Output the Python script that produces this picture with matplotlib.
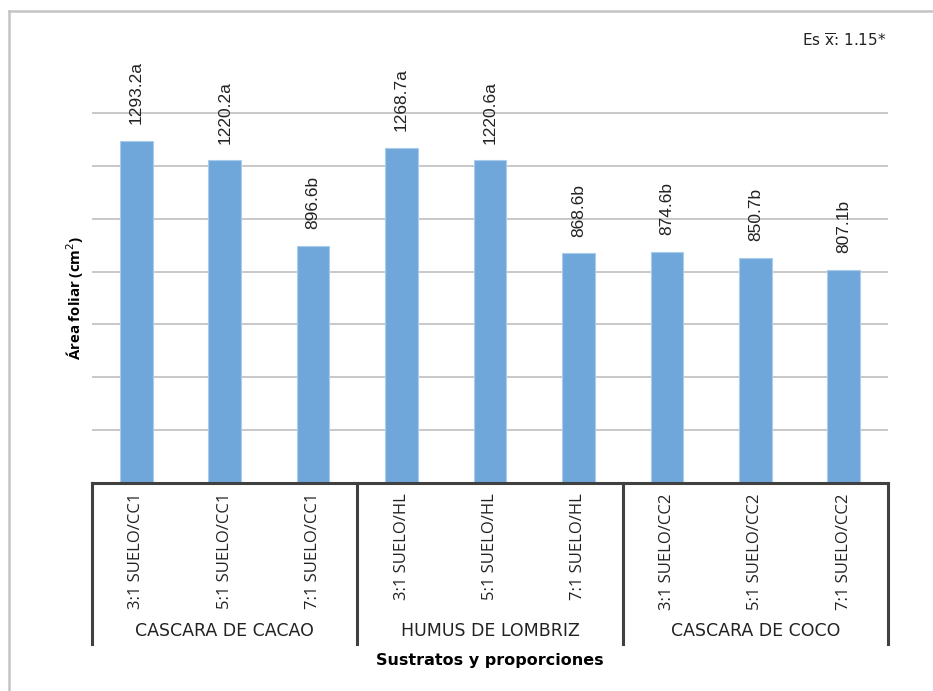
import matplotlib
matplotlib.use("Agg")
import matplotlib.pyplot as plt
from matplotlib.lines import Line2D

categories = ["3:1 SUELO/CC1", "5:1 SUELO/CC1", "7:1 SUELO/CC1",
              "3:1 SUELO/HL", "5:1 SUELO/HL", "7:1 SUELO/HL",
              "3:1 SUELO/CC2", "5:1 SUELO/CC2", "7:1 SUELO/CC2"]
values = [1293.2, 1220.2, 896.6, 1268.7, 1220.6, 868.6, 874.6, 850.7, 807.1]
letters = ["a", "a", "b", "a", "a", "b", "b", "b", "b"]
groups = ["CASCARA DE CACAO", "HUMUS DE LOMBRIZ", "CASCARA DE COCO"]
group_size = 3
grid_ticks = [200, 400, 600, 800, 1000, 1200, 1400]

narrow = ["Open Sans", "DejaVu Sans"]
W, H = 933, 691
fig = plt.figure(figsize=(W / 100, H / 100), dpi=100)

# outer border (only left and top edges visible)
bx, by = 8.5 / W, 1 - 11 / H
fig.add_artist(Line2D([bx, bx], [0, by], transform=fig.transFigure, color="#C4C4C4", lw=1.8))
fig.add_artist(Line2D([bx, 1], [by, by], transform=fig.transFigure, color="#C4C4C4", lw=1.8))

left, right, bottom, top = 92 / W, 888 / W, 1 - 483 / H, 1 - 60 / H
ax = fig.add_axes([left, bottom, right - left, top - bottom])
x = list(range(len(categories)))
ax.set_xlim(-0.5, len(categories) - 0.5)
ax.set_ylim(0, 1600)
for g in grid_ticks:
    ax.axhline(g, color="#C4C4C4", lw=1.3, zorder=0)
bars = ax.bar(x, values, width=0.37, color="#70A7DA", edgecolor="#A9CCEB", lw=0.8, zorder=2)
for xi, v, l in zip(x, values, letters):
    ax.annotate(f"{v}{l}", (xi, v), xytext=(0, 12), textcoords="offset points",
                rotation=90, ha="center", va="bottom", fontsize=12.5,
                family=["Liberation Sans", "DejaVu Sans"], color="#222222")
for s in ax.spines.values():
    s.set_visible(False)
ax.set_xticks([])
ax.set_yticks([])

tr = ax.get_xaxis_transform()
# baseline
ax.add_line(Line2D([-0.5, len(categories) - 0.5], [0, 0], transform=tr, color="#404040",
                   lw=2.2, clip_on=False, zorder=3))
for k in range(len(groups) + 1):
    xb = -0.5 + k * group_size
    ax.add_line(Line2D([xb, xb], [0, -0.380], transform=tr, color="#404040", lw=2.2,
                       clip_on=False, zorder=3))
for xi, c in zip(x, categories):
    ax.text(xi, -0.024, c, transform=tr, rotation=90, ha="center", va="top",
            fontsize=12, family=narrow, color="#222222")
for k, gname in enumerate(groups):
    xc = k * group_size + (group_size - 1) / 2
    ax.text(xc, -0.350, gname, transform=tr, ha="center", va="center",
            fontsize=12.5, family=["DejaVu Sans"], color="#222222")

fig.text(490 / W, 1 - 661 / H, "Sustratos y proporciones", ha="center", va="center",
         fontsize=11.5, fontweight="bold", family=["DejaVu Sans"])
fig.text(75 / W, 1 - 298 / H, "Área foliar (cm$^2$)", ha="center", va="center", rotation=90,
         fontsize=10.8, fontweight="bold", family=narrow)
fig.text(887 / W, 1 - 41 / H, r"Es $\overline{\mathrm{x}}$: 1.15*", ha="right", va="center",
         fontsize=11, family=["DejaVu Sans"], color="#222222")

fig.savefig("out.png", dpi=100)
